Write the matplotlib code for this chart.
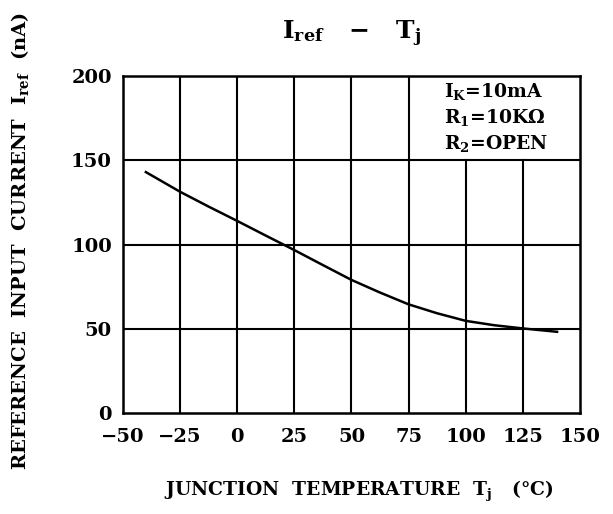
import numpy as np
import matplotlib
matplotlib.use("Agg")
import matplotlib.pyplot as plt

# curve
temp_c = [-40, -25, -12.5, 0, 12.5, 25, 37.5, 50, 62.5, 75, 87.5, 100, 112.5, 125, 140]
iref_na = [143, 131.3, 122.5, 114, 105.3, 96.7, 87.8, 79, 71.5, 64.5, 59.2, 54.7, 52.1, 50.2, 48.2]

x_ticks = [-50, -25, 0, 25, 50, 75, 100, 125, 150]
y_ticks = [0, 50, 100, 150, 200]
cond_lines = [r"$\mathbf{I_K}$=10mA", r"$\mathbf{R_1}$=10K$\mathbf{\Omega}$", r"$\mathbf{R_2}$=OPEN"]

plt.rcParams["font.family"] = "DejaVu Serif"
plt.rcParams["font.weight"] = "bold"
plt.rcParams["mathtext.fontset"] = "dejavuserif"

fig = plt.figure(figsize=(6.13, 5.14), dpi=100)
ax = fig.add_axes([0.2007, 0.1965, 0.7453, 0.6555])

# grid, with the upper right cell left blank for the conditions
for xv in x_ticks[1:-1]:
    top = 1.0 if xv <= 75 else 0.75
    ax.axvline(xv, ymin=0, ymax=top, color="black", lw=1.5, zorder=1)
for yv in y_ticks[1:-1]:
    ax.axhline(yv, color="black", lw=1.5, zorder=1)

ax.plot(temp_c, iref_na, color="black", lw=1.8, zorder=3)

ax.set_xlim(-50, 150)
ax.set_ylim(0, 200)
ax.set_xticks(x_ticks)
ax.set_yticks(y_ticks)
ax.set_xticklabels([str(v).replace("-", "\u2212") for v in x_ticks])
ax.tick_params(length=0, labelsize=14)
ax.tick_params(axis="x", pad=11)
ax.tick_params(axis="y", pad=8)
for s in ax.spines.values():
    s.set_linewidth(1.8)

for i, t in enumerate(cond_lines):
    ax.text(90.5, 191 - i * 15.5, t, ha="left", va="center", fontsize=13.5, fontweight="bold")

fig.text(0.574, 0.935, r"$\mathbf{I_{ref}}$   $\mathbf{-}$   $\mathbf{T_j}$", ha="center", va="center", fontsize=18)
fig.text(0.585, 0.043, r"JUNCTION  TEMPERATURE  $\mathbf{T_j}$   (°C)", ha="center", va="center", fontsize=13.5)
fig.text(0.033, 0.531, r"REFERENCE  INPUT  CURRENT  $\mathbf{I_{ref}}$  (nA)", ha="center", va="center",
         rotation=90, fontsize=14)

fig.savefig("out.png", dpi=100)
